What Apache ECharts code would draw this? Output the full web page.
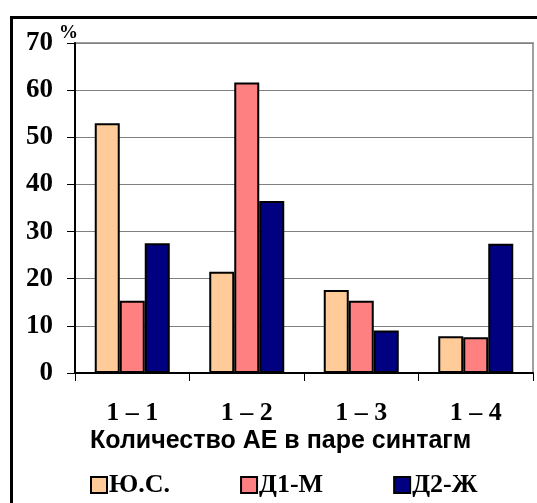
<!DOCTYPE html>
<html>
<head>
<meta charset="utf-8">
<script src="https://cdn.jsdelivr.net/npm/echarts@6/dist/echarts.min.js"></script>
<style>
  html, body { margin: 0; padding: 0; background: #fff; }
  #chart { width: 537px; height: 503px; }
</style>
</head>
<body>
<div id="chart"></div>
<script>
// categories and values (percent)
const categories = ['1 – 1', '1 – 2', '1 – 3', '1 – 4'];
const seriesNames = ['Ю.С.', 'Д1-М', 'Д2-Ж'];
const valuesYS = [53.0, 21.5, 17.6, 7.8];
const valuesD1M = [15.3, 61.6, 15.3, 7.6];
const valuesD2Zh = [27.5, 36.5, 9.0, 27.4];
const yTicks = [0, 10, 20, 30, 40, 50, 60, 70];

const colors = ['#FFCC99', '#FF8080', '#000080'];
const serif = '"Liberation Serif", "Times New Roman", serif';
const sans = '"Liberation Sans", Arial, sans-serif';

function barSeries(name, data, color) {
  return {
    name: name,
    type: 'bar',
    data: data,
    barWidth: 25,
    barGap: '0%',
    itemStyle: { color: color, borderColor: '#000', borderWidth: 2 }
  };
}

const chart = echarts.init(document.getElementById('chart'));
chart.setOption({
  animation: false,
  backgroundColor: '#fff',
  grid: {
    left: 75, top: 43, right: 4, bottom: 130,
    show: true, borderColor: '#a0a0a0', borderWidth: 2
  },
  title: {
    text: 'Количество АЕ в паре синтагм',
    left: 85, top: 424,
    textStyle: { fontFamily: sans, fontWeight: 'bold', fontSize: 25, color: '#000' }
  },
  legend: {
    data: seriesNames,
    left: 90, top: 472,
    padding: 0,
    itemWidth: 16, itemHeight: 16, itemGap: 70,
    icon: 'rect',
    itemStyle: { borderColor: '#000', borderWidth: 2 },
    textStyle: { fontFamily: serif, fontWeight: 'bold', fontSize: 26, color: '#000', padding: [0, 0, 0, -3] }
  },
  xAxis: {
    type: 'category',
    data: categories,
    axisLine: { lineStyle: { color: '#000', width: 2 } },
    axisTick: { show: true, length: 8, lineStyle: { color: '#000', width: 1 } },
    axisLabel: {
      margin: 27,
      fontFamily: serif, fontWeight: 'bold', fontSize: 26, color: '#000'
    }
  },
  yAxis: {
    type: 'value',
    min: yTicks[0], max: yTicks[yTicks.length - 1], interval: 10,
    axisLine: { show: true, lineStyle: { color: '#000', width: 2 } },
    axisTick: { show: true, length: 8, lineStyle: { color: '#000', width: 1 } },
    axisLabel: {
      margin: 22,
      fontFamily: serif, fontWeight: 'bold', fontSize: 27, color: '#000'
    },
    splitLine: { lineStyle: { color: '#808080', width: 1 } }
  },
  graphic: [{
    type: 'rect',
    left: 9, top: 15,
    shape: { width: 560, height: 520 },
    style: { fill: null, stroke: '#000', lineWidth: 3 },
    silent: true
  }, {
    type: 'text',
    left: 59, top: 24,
    style: { text: '%', fill: '#000', font: 'bold 19px ' + serif },
    silent: true
  }],
  series: [
    barSeries(seriesNames[0], valuesYS, colors[0]),
    barSeries(seriesNames[1], valuesD1M, colors[1]),
    barSeries(seriesNames[2], valuesD2Zh, colors[2])
  ]
});
</script>
</body>
</html>
